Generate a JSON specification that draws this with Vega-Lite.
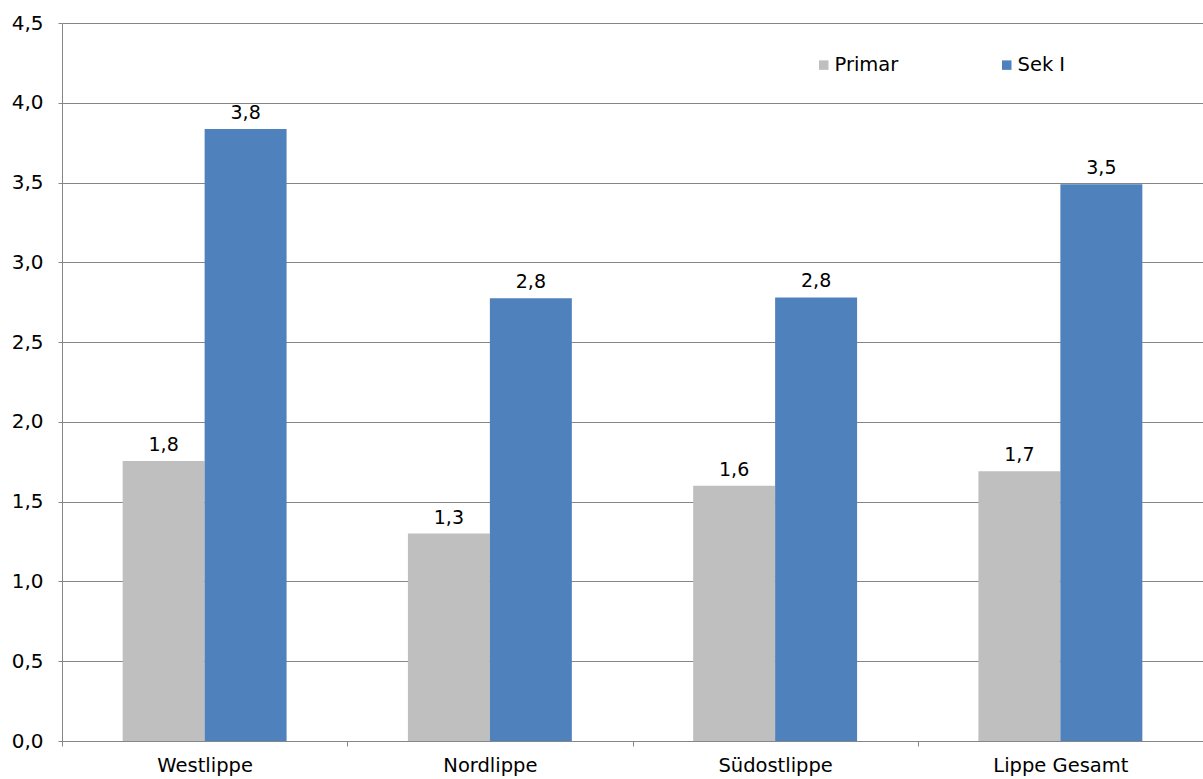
{
  "$schema": "https://vega.github.io/schema/vega-lite/v6.json",
  "width": 1141,
  "height": 718,
  "autosize": {"type": "none"},
  "padding": {"left": 62, "top": 23, "right": 0, "bottom": 38},
  "config": {
    "locale": {"number": {"decimal": ",", "thousands": ".", "grouping": [3], "currency": ["", " €"]}},
    "font": "DejaVu Sans",
    "view": {"stroke": null}
  },
  "data": {
    "values": [
      {"region": "Westlippe", "type": "Primar", "value": 1.755},
      {"region": "Westlippe", "type": "Sek I", "value": 3.835},
      {"region": "Nordlippe", "type": "Primar", "value": 1.30},
      {"region": "Nordlippe", "type": "Sek I", "value": 2.775},
      {"region": "Südostlippe", "type": "Primar", "value": 1.60},
      {"region": "Südostlippe", "type": "Sek I", "value": 2.78},
      {"region": "Lippe Gesamt", "type": "Primar", "value": 1.69},
      {"region": "Lippe Gesamt", "type": "Sek I", "value": 3.49}
    ]
  },
  "encoding": {
    "x": {
      "field": "region", "type": "nominal",
      "sort": ["Westlippe", "Nordlippe", "Südostlippe", "Lippe Gesamt"],
      "scale": {"paddingInner": 0, "paddingOuter": 0},
      "axis": {
        "title": null, "labelAngle": 0, "labelFontSize": 19.5, "labelColor": "#000000",
        "labelPadding": 10, "domainColor": "#868686", "tickColor": "#868686",
        "tickBand": "extent", "tickSize": 5, "grid": false
      }
    },
    "xOffset": {
      "field": "type", "type": "nominal",
      "scale": {"paddingInner": 0, "paddingOuter": 0.74}
    },
    "y": {
      "field": "value", "type": "quantitative",
      "scale": {"domain": [0, 4.5], "nice": false},
      "axis": {
        "title": null, "values": [0, 0.5, 1, 1.5, 2, 2.5, 3, 3.5, 4, 4.5],
        "format": ".1f", "labelFontSize": 20, "labelColor": "#000000",
        "labelPadding": 15, "gridColor": "#868686", "gridWidth": 1,
        "domainColor": "#868686", "tickColor": "#868686", "tickSize": 4
      }
    }
  },
  "layer": [
    {
      "mark": {"type": "bar"},
      "encoding": {
        "color": {
          "field": "type", "type": "nominal",
          "scale": {"domain": ["Primar", "Sek I"], "range": ["#BFBFBF", "#4F81BD"]},
          "legend": {
            "title": null, "orient": "none", "direction": "horizontal",
            "legendX": 752, "legendY": 32, "symbolType": "square", "symbolSize": 90,
            "labelFontSize": 19.5, "labelColor": "#000000", "labelOffset": 1,
            "columnPadding": 98
          }
        }
      }
    },
    {
      "mark": {"type": "text", "baseline": "bottom", "dy": -6, "fontSize": 19, "color": "#000000"},
      "encoding": {
        "text": {"field": "value", "type": "quantitative", "format": ".1f"}
      }
    }
  ]
}
